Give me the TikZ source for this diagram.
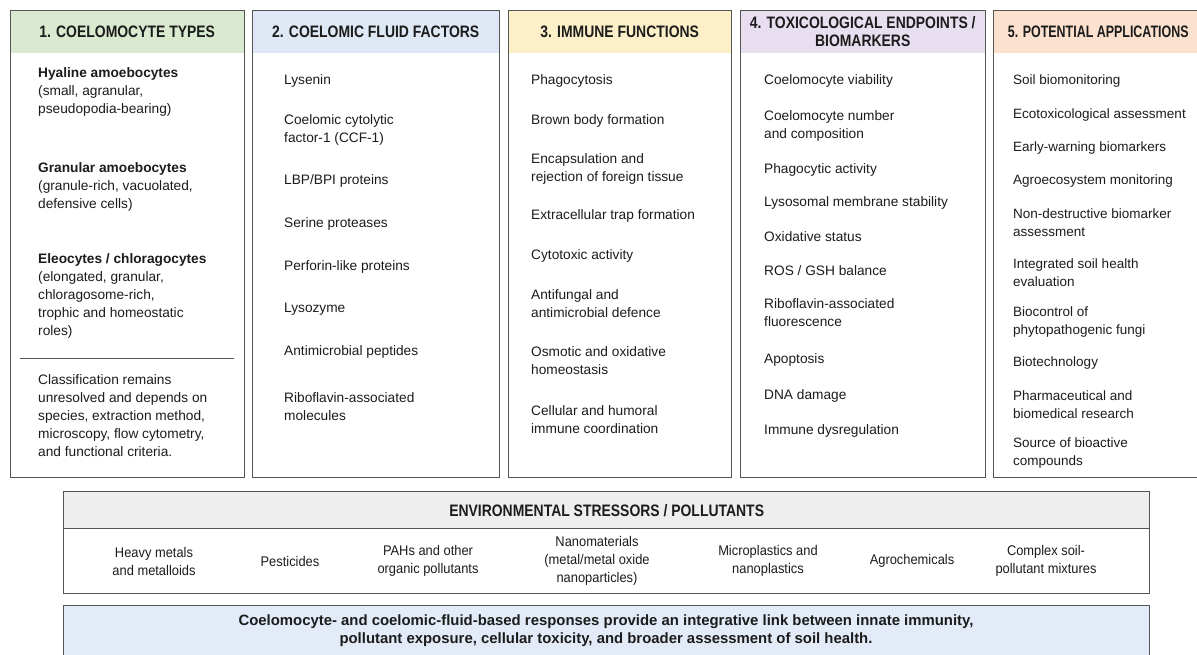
\documentclass[tikz,border=0pt]{standalone}
\usepackage{fontspec}
\setmainfont{Liberation Sans}
\newfontfamily\narrowfont[FakeStretch=0.84]{Liberation Sans}
\newfontfamily\narrowerfont[FakeStretch=0.75]{Liberation Sans}
\newfontfamily\semifont[FakeStretch=0.92]{Liberation Sans}
\usetikzlibrary{positioning}
\definecolor{hdgreen}{HTML}{D9EAD0}
\definecolor{hdblue}{HTML}{DFE8F5}
\definecolor{hdyellow}{HTML}{FDF0C8}
\definecolor{hdpurple}{HTML}{E7DFF0}
\definecolor{hdorange}{HTML}{FBE1CE}
\definecolor{hdgray}{HTML}{EEEEEE}
\definecolor{notebg}{HTML}{E2EBF7}
\definecolor{boxgray}{HTML}{555555}
\definecolor{inkdark}{HTML}{1C1C1C}

\begin{document}
\begin{tikzpicture}[x=1pt,y=-1pt,text=inkdark,
   colbox/.style={draw=boxgray,line width=1.3pt,anchor=north west,minimum height=467pt,inner sep=0pt},
   colhead/.style={fill=#1,anchor=north west,minimum height=43pt,inner sep=0pt,align=center,
      font=\narrowfont\bfseries\fontsize{16.6}{18}\selectfont},
   item/.style={anchor=west,align=left,inner sep=0pt,font=\fontsize{13.7}{18}\selectfont},
   smallitem/.style={item,font=\fontsize{13.5}{18}\selectfont},
   stressor/.style={align=center,inner sep=0pt,font=\semifont\fontsize{14}{18}\selectfont},
   wide/.style={draw=boxgray,line width=1.3pt,anchor=north west,minimum width=1086pt,inner sep=0pt}]
  \useasboundingbox[fill=white] (0,0) rectangle (1197,655);

  \node[colhead=hdgreen,minimum width=234pt]  (h1) at (10,10)  {1. COELOMOCYTE TYPES};
  \node[colhead=hdblue,minimum width=247pt]   (h2) at (252,10) {2. COELOMIC FLUID FACTORS};
  \node[colhead=hdyellow,minimum width=223pt] (h3) at (508,10) {3. IMMUNE FUNCTIONS};
  \node[colhead=hdpurple,minimum width=245pt] (h4) at (740,10) {4. TOXICOLOGICAL ENDPOINTS /\\BIOMARKERS};
  \node[colhead=hdorange,minimum width=210pt,font=\narrowerfont\bfseries\fontsize{16.6}{18}\selectfont] (h5) at (993,10) {5. POTENTIAL APPLICATIONS};
  \node[colbox,minimum width=234pt] (b1) at (10,10)  {};
  \node[colbox,minimum width=247pt] (b2) at (252,10) {};
  \node[colbox,minimum width=223pt] (b3) at (508,10) {};
  \node[colbox,minimum width=245pt] (b4) at (740,10) {};
  \node[colbox,minimum width=222pt] (b5) at (993,10) {};

  \node[item] (ct1) at (38,92)    {\textbf{Hyaline amoebocytes}\\(small, agranular,\\pseudopodia-bearing)};
  \node[item] (ct2) at (38,186.5) {\textbf{Granular amoebocytes}\\(granule-rich, vacuolated,\\defensive cells)};
  \node[item] (ct3) at (38,295.5) {\textbf{Eleocytes / chloragocytes}\\(elongated, granular,\\chloragosome-rich,\\trophic and homeostatic\\roles)};
  \draw[boxgray,line width=1pt] (20,358) -- (234,358);
  \node[item] (ct4) at (38,416)   {Classification remains\\unresolved and depends on\\species, extraction method,\\microscopy, flow cytometry,\\and functional criteria.};

  \foreach \t/\y [count=\i] in {Lysenin/81, {Coelomic cytolytic\\factor-1 (CCF-1)}/130,
      {LBP/BPI proteins}/181, Serine proteases/224, Perforin-like proteins/267,
      Lysozyme/309, Antimicrobial peptides/352, {Riboflavin-associated\\molecules}/407}
    \node[item] (ff\i) at (284,\y) {\t};

  \foreach \t/\y [count=\i] in {Phagocytosis/81, Brown body formation/121,
      {Encapsulation and\\rejection of foreign tissue}/169, Extracellular trap formation/216,
      Cytotoxic activity/256, {Antifungal and\\antimicrobial defence}/303.5,
      {Osmotic and oxidative\\homeostasis}/361, {Cellular and humoral\\immune coordination}/420}
    \node[item] (im\i) at (531,\y) {\t};

  \foreach \t/\y [count=\i] in {Coelomocyte viability/81, {Coelomocyte number\\and composition}/126,
      Phagocytic activity/170, Lysosomal membrane stability/203, Oxidative status/237,
      {ROS / GSH balance}/271, {Riboflavin-associated\\fluorescence}/313, Apoptosis/360,
      DNA damage/396, Immune dysregulation/431}
    \node[item] (tx\i) at (764,\y) {\t};

  \foreach \t/\y [count=\i] in {Soil biomonitoring/81, Ecotoxicological assessment/115,
      Early-warning biomarkers/148, Agroecosystem monitoring/181,
      {Non-destructive biomarker\\assessment}/223, {Integrated soil health\\evaluation}/273,
      {Biocontrol of\\phytopathogenic fungi}/322, Biotechnology/363,
      {Pharmaceutical and\\biomedical research}/404.5, {Source of bioactive\\compounds}/453}
    \node[smallitem] (ap\i) at (1013,\y) {\t};

  \node[wide,fill=hdgray,minimum height=37pt] (sthead) at (63,491) {};
  \node[wide,minimum height=102pt] (stbox) at (63,491) {};
  \node[font=\narrowfont\bfseries\fontsize{16.6}{18}\selectfont,inner sep=0pt] (sttitle) at (sthead.center) {ENVIRONMENTAL STRESSORS / POLLUTANTS};
  \foreach \t/\x [count=\i] in {{Heavy metals\\and metalloids}/154, Pesticides/290,
      {PAHs and other\\organic pollutants}/428, {Nanomaterials\\(metal/metal oxide\\nanoparticles)}/597,
      {Microplastics and\\nanoplastics}/768, Agrochemicals/912, {Complex soil-\\pollutant mixtures}/1046}
    \node[stressor] (st\i) at (\x,561) {\t};

  \node[wide,fill=notebg,minimum height=66pt] (note) at (63,605) {};
  \node[align=center,inner sep=0pt,font=\bfseries\fontsize{14.9}{18}\selectfont] (notetext) at (606,631)
    {Coelomocyte- and coelomic-fluid-based responses provide an integrative link between innate immunity,\\
     pollutant exposure, cellular toxicity, and broader assessment of soil health.};
\end{tikzpicture}
\end{document}
